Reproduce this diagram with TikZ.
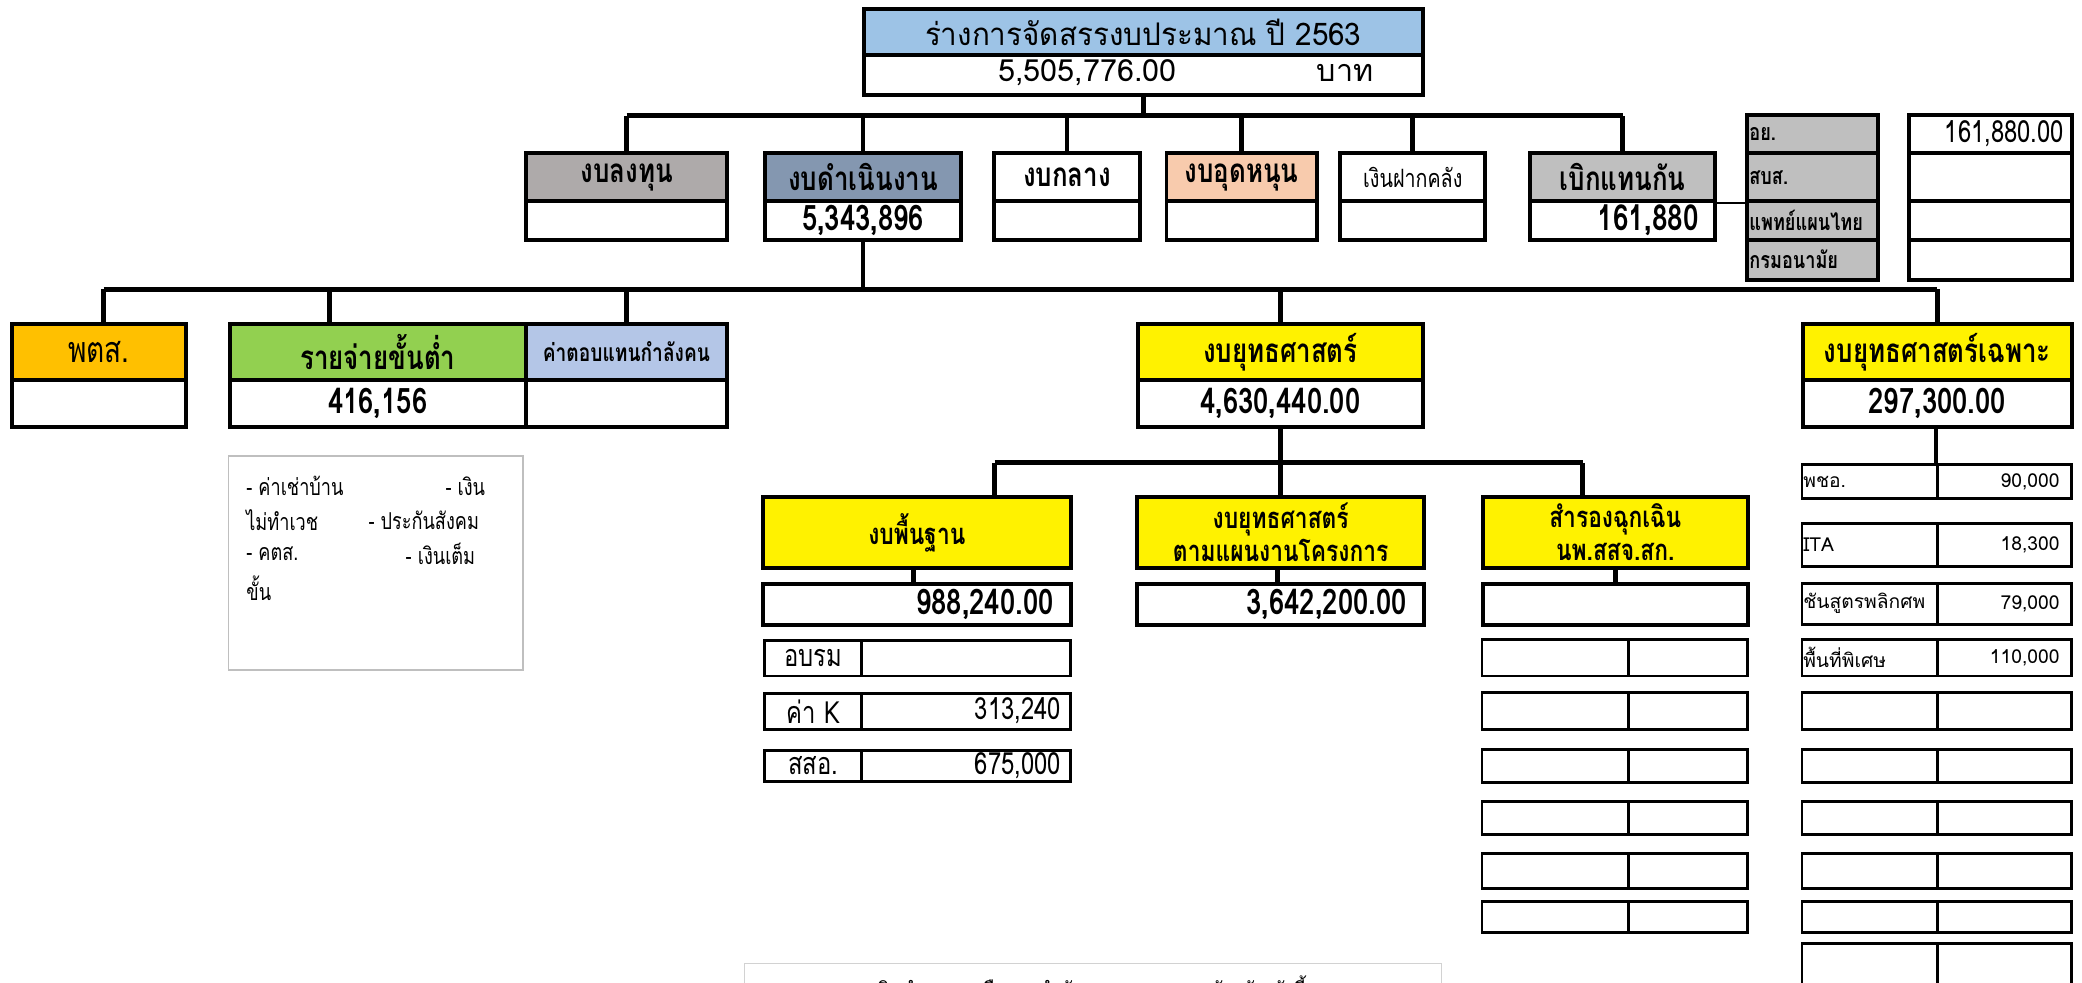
\documentclass[tikz,border=0pt]{standalone}
\usepackage{fontspec}
\newfontfamily\thaifont[Script=Thai]{Loma}
\newfontfamily\thaititle[Script=Thai,FakeStretch=0.95]{Loma}
\newfontfamily\thaicond[Script=Thai,FakeStretch=0.78]{Loma}
\definecolor{titleblue}{HTML}{9DC3E6}
\definecolor{grayA}{HTML}{AEAAAA}
\definecolor{grayB}{HTML}{BFBFBF}
\definecolor{slate}{HTML}{8497B0}
\definecolor{peach}{HTML}{F8CBAD}
\definecolor{gold}{HTML}{FFC000}
\definecolor{lime}{HTML}{92D050}
\definecolor{paleblue}{HTML}{B4C6E7}
\tikzset{
  conn/.style={line width=3.5pt},
  box/.style={draw, line width=3pt, anchor=north west, inner sep=0pt},
  cell/.style 2 args={box, minimum width=#1, minimum height=#2},
  thin cell/.style 2 args={draw, line width=2.2pt, anchor=north west, inner sep=0pt, minimum width=#1, minimum height=#2},
  hdr/.style={font=\thaicond\bfseries\fontsize{25}{27}\selectfont},
  hdr2/.style={font=\thaicond\bfseries\fontsize{22}{25}\selectfont},
  val/.style={font=\thaicond\bfseries\fontsize{26.5}{28}\selectfont},
  small/.style={font=\thaicond\bfseries\fontsize{17.5}{19}\selectfont},
  detail/.style={font=\thaicond\fontsize{23}{25}\selectfont},
  table text/.style={font=\thaifont\fontsize{14.5}{16}\selectfont},
  righttext/.style={text width=#1, align=right},
  lefttext/.style={text width=#1, align=left}
}
\begin{document}
\begin{tikzpicture}[x=1pt,y=-1pt]
\useasboundingbox (0,0) rectangle (1568,740);

% title
\node[cell={421pt}{35pt}, fill=titleblue, font=\thaititle\fontsize{23.5}{25}\selectfont] (title) at (649,5) {ร่างการจัดสรรงบประมาณ ปี 2563};
\node[cell={421pt}{30pt}] (total) at (649,40) {};
\node[font=\thaifont\fontsize{23}{25}\selectfont] (totalnum) at (819,55) {5,505,776.00};
\node[font=\thaifont\fontsize{23}{25}\selectfont] (baht) at (1013,55) {บาท};

% budget groups
\node[cell={151pt}{36pt}, fill=grayA, hdr] (inv) at (395,114) {งบลงทุน};
\node[cell={151pt}{29pt}] (invv) at (395,150) {};
\node[cell={147pt}{36pt}, fill=slate, hdr] (ops) at (575,114) {งบดำเนินงาน};
\node[cell={147pt}{29pt}, val] (opsv) at (575,150) {5,343,896};
\node[cell={110pt}{36pt}, hdr] (cen) at (747,114) {งบกลาง};
\node[cell={110pt}{29pt}] (cenv) at (747,150) {};
\node[cell={113pt}{36pt}, fill=peach, hdr] (sub) at (877,114) {งบอุดหนุน};
\node[cell={113pt}{29pt}] (subv) at (877,150) {};
\node[cell={109pt}{36pt}, font=\thaicond\fontsize{19}{21}\selectfont] (dep) at (1008,114) {เงินฝากคลัง};
\node[cell={109pt}{29pt}] (depv) at (1008,150) {};
\node[cell={139pt}{36pt}, fill=grayB, hdr] (reimb) at (1151,114) {เบิกแทนกัน};
\node[cell={139pt}{29pt}, font=\thaicond\bfseries\fontsize{27}{28}\selectfont, righttext=115pt] (reimbv) at (1151,150) {161,880};

% reimbursement split
\foreach \nm/\y/\h/\lbl in {oy/85/29/อย., sbs/114/36/สบส., ttm/150/29/แพทย์แผนไทย, anamai/179/30/กรมอนามัย}
  \node[cell={99pt}{\h pt}, fill=grayB, small, lefttext=95pt] (\nm) at (1314,\y) {\lbl};
\foreach \nm/\y/\h/\amt in {oyv/85/29/{161,880.00}, sbsv/114/36/, ttmv/150/29/, anamaiv/179/30/}
  \node[cell={123pt}{\h pt}, font=\thaicond\fontsize{23}{25}\selectfont, righttext=111pt] (\nm) at (1436,\y) {\amt};
\draw[line width=1.5pt] (reimb.south east) -- (sbs.south west);

\coordinate (busA) at (477,87);
\draw[conn] (inv.north |- busA) -- (reimb.north |- busA);
\draw[conn] (total.south) -- (total.south |- busA);
\foreach \n in {inv,ops,cen,sub,dep,reimb}
  \draw[conn] (\n.north) -- (\n.north |- busA);

% operations
\node[cell={131pt}{42pt}, fill=gold, font=\thaicond\fontsize{27}{29}\selectfont] (pts) at (7.5,242.5) {พตส.};
\node[cell={131pt}{35.5pt}] (ptsv) at (7.5,284.5) {};
\node[cell={223pt}{42pt}, fill=lime, hdr] (mins) at (171.5,242.5) {รายจ่ายขั้นต่ำ};
\node[cell={223pt}{35.5pt}, val] (minsv) at (171.5,284.5) {416,156};
\node[cell={151.5pt}{42pt}, fill=paleblue, font=\thaicond\bfseries\fontsize{18.5}{20}\selectfont] (staff) at (394.5,242.5) {ค่าตอบแทนกำลังคน};
\node[cell={151.5pt}{35.5pt}] (staffv) at (394.5,284.5) {};
\node[cell={214.5pt}{42pt}, fill=yellow, hdr] (strat) at (855.5,242.5) {งบยุทธศาสตร์};
\node[cell={214.5pt}{35.5pt}, val] (stratv) at (855.5,284.5) {4,630,440.00};
\node[cell={203pt}{42pt}, fill=yellow, hdr] (spec) at (1356,242.5) {งบยุทธศาสตร์เฉพาะ};
\node[cell={203pt}{35.5pt}, val] (specv) at (1356,284.5) {297,300.00};

\coordinate (busB) at (78,218);
\draw[conn] (busB) -- (spec.north |- busB);
\draw[conn] (opsv.south) -- (opsv.south |- busB);
\draw[conn] (busB) -- (busB |- pts.north);
\draw[conn] ([xshift=76.5pt]mins.north west) -- ([xshift=76.5pt]mins.north west |- busB);
\foreach \n in {staff,strat,spec}
  \draw[conn] (\n.north) -- (\n.north |- busB);

% note
\node[draw=grayB, line width=1.2pt, anchor=north west, minimum width=222pt, minimum height=161pt] (note) at (171.5,343) {};
\begin{scope}[font=\thaicond\fontsize{17.5}{19}\selectfont]
\node[anchor=west] (n1) at (182,366) {- ค่าเช่าบ้าน};
\node[anchor=west] (n2) at (332,366) {- เงิน};
\node[anchor=west] (n3) at (182,392) {ไม่ทำเวช};
\node[anchor=west] (n4) at (274,392) {- ประกันสังคม};
\node[anchor=west] (n5) at (182,417) {- คตส.};
\node[anchor=west] (n6) at (302,417) {- เงินเต็ม};
\node[anchor=west] (n7) at (182,443) {ขั้น};
\end{scope}

% strategy
\node[cell={232pt}{53pt}, fill=yellow, hdr2] (base) at (573,373) {งบพื้นฐาน};
\node[cell={232pt}{31pt}, val, righttext=206pt] (basev) at (573,438) {988,240.00};
\node[cell={216pt}{53pt}, fill=yellow, hdr2, align=center] (plan) at (855,373) {งบยุทธศาสตร์\\ตามแผนงานโครงการ};
\node[cell={216pt}{31pt}, val, righttext=190pt] (planv) at (855,438) {3,642,200.00};
\node[cell={200pt}{53pt}, fill=yellow, hdr2, align=center] (res) at (1115,373) {สำรองฉุกเฉิน\\นพ.สสจ.สก.};
\node[cell={200pt}{31pt}] (resv) at (1115,438) {};

\coordinate (busC) at (749,348.5);
\coordinate (busCR) at (1192,348.5);
\draw[conn] (busC) -- (busCR);
\draw[conn] (stratv.south) -- (stratv.south |- busC);
\draw[conn] (busC) -- (busC |- base.north);
\draw[conn] (plan.north) -- (plan.north |- busC);
\draw[conn] (busCR) -- (busCR |- res.north);
\draw[conn] ([xshift=115pt]base.south west) -- ([xshift=115pt]basev.north west);
\draw[conn] ([xshift=107pt]plan.south west) -- ([xshift=107pt]planv.north west);
\draw[conn] (res.south) -- (resv.north);

% base detail
\foreach \i/\y/\h/\a/\b in {1/481/27/อบรม/, 2/521/27/ค่า K/{313,240}, 3/564/23.5/สสอ./{675,000}} {
  \node[thin cell={73pt}{\h pt}, detail] (basea\i) at (575,\y) {\a};
  \node[thin cell={157pt}{\h pt}, detail, righttext=143pt] (baseb\i) at (648,\y) {\b};
}
% reserve detail
\foreach \i/\y/\h in {1/480.5/27.5, 2/520.5/27.5, 3/563.5/24.5, 4/602.7/25, 5/641.7/26.3, 6/678/23} {
  \node[thin cell={110pt}{\h pt}] (resa\i) at (1115,\y) {};
  \node[thin cell={90pt}{\h pt}] (resb\i) at (1225,\y) {};
}
% special detail
\foreach \i/\y/\h/\a/\b in {1/348.5/26/พชอ./{90,000}, 2/393/32.5/ITA/{18,300}, 3/438/31/ชันสูตรพลิกศพ/{79,000}, 4/480.5/27.5/พื้นที่พิเศษ/{110,000}, 5/520.5/27.5//, 6/563.5/24.5//, 7/602.7/25//, 8/641.7/26.3//, 9/678/23//, 10/709.5/40//} {
  \node[thin cell={102pt}{\h pt}, table text, lefttext=100pt] (speca\i) at (1356,\y) {\a};
  \node[thin cell={101pt}{\h pt}, table text, righttext=83pt] (specb\i) at (1458,\y) {\b};
}
\draw[conn] (specv.south -| specb1.north west) -- (specb1.north west);

% bottom note
\node[draw=grayB!70, line width=1.2pt, anchor=north west, minimum width=525pt, minimum height=40pt] (remain) at (560,725) {};
\node[font=\thaifont\fontsize{14}{16}\selectfont, anchor=north] (remaintxt) at (821,731) {เงินบำรุงคงเหลือของสำนักงานสาธารณสุขจังหวัด ดังนี้};
\end{tikzpicture}
\end{document}
